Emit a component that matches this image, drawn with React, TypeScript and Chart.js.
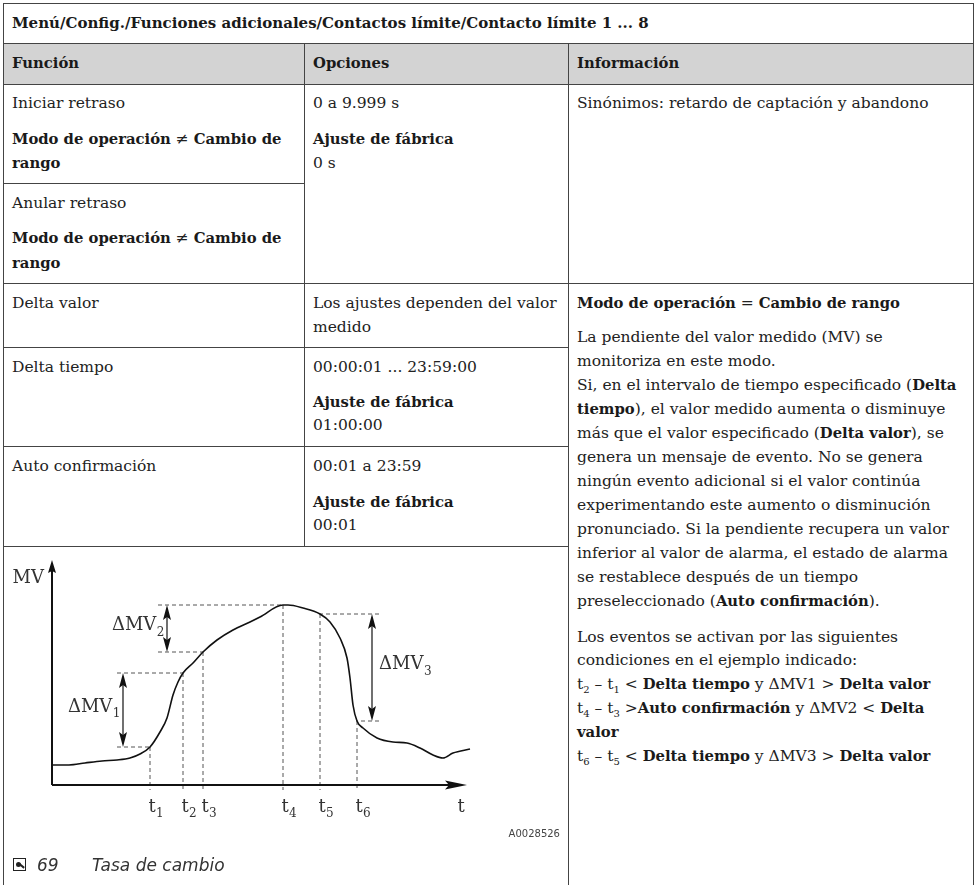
import React, { useEffect, useRef } from "react";
import { Chart, registerables } from "chart.js";
Chart.register(...registerables);

// ---- chart data (time units / MV units) ----
const curveTime = [0, 17, 33, 50, 65, 78, 88, 98, 108, 115, 121, 126, 131, 141, 151, 165, 181, 198, 208, 231, 236, 251, 268, 278, 288, 295, 298, 301, 305, 311, 325, 341, 355, 368, 381, 391, 401, 418];
const curveMV = [20, 20, 22, 24, 25, 27, 31, 38, 53, 67, 90, 103, 112, 122, 133, 145, 155, 163, 168, 180, 180, 177, 171, 163, 147, 127, 107, 80, 64, 57, 47, 43, 42, 37, 30, 27, 32, 36];
const eventTime = [98, 131, 151, 231, 268, 305];
const eventMV = [38, 112, 133, 180, 171, 64];
const eventLabels = ["1", "2", "3", "4", "5", "6"];
const deltaLabels = ["1", "2", "3"];
const deltaArrowTime = [71, 115, 320];
const deltaLowEvent = [0, 2, 5];
const deltaHighEvent = [1, 3, 4];
const deltaGuideEnd = [65, 106, 327];
const deltaLabelSide = ["left", "left", "right"];
const axisMaxTime = 420;
const axisTipTime = 415;
const axisMaxMV = 225;
const axisDropMV = -5;

const SERIF = '"DejaVu Serif", serif';

const diagramPlugin = {
  id: "diagram",
  afterDatasetsDraw(chart: any) {
    const ctx = chart.ctx as CanvasRenderingContext2D;
    const xs = chart.scales.x;
    const ys = chart.scales.y;
    const x0 = xs.getPixelForValue(0);
    const y0 = ys.getPixelForValue(0);
    const yTop = ys.getPixelForValue(axisMaxMV);
    const xTip = xs.getPixelForValue(axisTipTime);
    ctx.save();
    ctx.strokeStyle = "#111";
    ctx.fillStyle = "#111";
    // axes
    ctx.lineWidth = 2;
    ctx.beginPath();
    ctx.moveTo(x0, y0);
    ctx.lineTo(x0, yTop + 10);
    ctx.moveTo(x0, y0);
    ctx.lineTo(xTip - 16, y0);
    ctx.stroke();
    // y arrow head
    ctx.beginPath();
    ctx.moveTo(x0, yTop);
    ctx.lineTo(x0 - 4, yTop + 13);
    ctx.lineTo(x0, yTop + 11);
    ctx.lineTo(x0 + 4, yTop + 13);
    ctx.closePath();
    ctx.fill();
    // x arrow head
    ctx.beginPath();
    ctx.moveTo(xTip, y0);
    ctx.lineTo(xTip - 22, y0 - 4.5);
    ctx.lineTo(xTip - 18, y0);
    ctx.lineTo(xTip - 22, y0 + 4.5);
    ctx.closePath();
    ctx.fill();

    // delta arrows
    ctx.lineWidth = 1.2;
    deltaArrowTime.forEach((t, i) => {
      const ax = xs.getPixelForValue(t);
      const yHi = ys.getPixelForValue(eventMV[deltaHighEvent[i]]);
      const yLo = ys.getPixelForValue(eventMV[deltaLowEvent[i]]);
      const hl = 15, hw = 4;
      ctx.beginPath();
      ctx.moveTo(ax, yHi + hl - 3);
      ctx.lineTo(ax, yLo - hl + 3);
      ctx.stroke();
      ctx.beginPath();
      ctx.moveTo(ax, yHi);
      ctx.lineTo(ax - hw, yHi + hl);
      ctx.lineTo(ax, yHi + hl - 3);
      ctx.lineTo(ax + hw, yHi + hl);
      ctx.closePath();
      ctx.fill();
      ctx.beginPath();
      ctx.moveTo(ax, yLo);
      ctx.lineTo(ax - hw, yLo - hl);
      ctx.lineTo(ax, yLo - hl + 3);
      ctx.lineTo(ax + hw, yLo - hl);
      ctx.closePath();
      ctx.fill();

      // label
      const cy = (yHi + yLo) / 2 - 3;
      ctx.fillStyle = "#333";
      ctx.textBaseline = "middle";
      const main = "\u0394MV";
      ctx.font = `12px ${SERIF}`;
      const subW = ctx.measureText(deltaLabels[i]).width;
      ctx.font = `18px ${SERIF}`;
      const mainW = ctx.measureText(main).width;
      const lx = deltaLabelSide[i] === "left" ? ax - 3 - subW - mainW : ax + 7;
      ctx.textAlign = "left";
      ctx.fillText(main, lx, cy);
      ctx.font = `12px ${SERIF}`;
      ctx.fillText(deltaLabels[i], lx + mainW + 0.5, cy + 7);
      ctx.fillStyle = "#111";
    });

    // MV label
    ctx.fillStyle = "#333";
    ctx.font = `18px ${SERIF}`;
    ctx.textAlign = "right";
    ctx.textBaseline = "middle";
    ctx.fillText("MV", x0 - 8, yTop + 18);

    // t labels
    const ly = y0 + 22;
    eventTime.forEach((t, i) => {
      const px = xs.getPixelForValue(t) + 2;
      ctx.font = `18px ${SERIF}`;
      ctx.textAlign = "center";
      ctx.fillText("t", px, ly);
      ctx.font = `12px ${SERIF}`;
      ctx.textAlign = "left";
      ctx.fillText(eventLabels[i], px + 4, ly + 7);
    });
    ctx.font = `18px ${SERIF}`;
    ctx.textAlign = "center";
    ctx.fillText("t", xs.getPixelForValue(axisTipTime - 6), ly);
    ctx.restore();
  },
};

function Diagram() {
  const ref = useRef<HTMLCanvasElement | null>(null);
  useEffect(() => {
    if (!ref.current) return;
    const dash = { borderDash: [4, 3], borderColor: "#555", borderWidth: 1, pointRadius: 0, showLine: true, tension: 0, clip: false as any, fill: false };
    const datasets: any[] = [
      {
        data: curveTime.map((t, i) => ({ x: t, y: curveMV[i] })),
        showLine: true,
        borderColor: "#111",
        borderWidth: 1.6,
        pointRadius: 0,
        cubicInterpolationMode: "monotone",
        fill: false,
        clip: false,
      },
    ];
    eventTime.forEach((t, i) => {
      datasets.push({ ...dash, data: [{ x: t, y: eventMV[i] }, { x: t, y: axisDropMV }] });
    });
    deltaGuideEnd.forEach((g, i) => {
      const hi = deltaHighEvent[i], lo = deltaLowEvent[i];
      datasets.push({ ...dash, data: [{ x: g, y: eventMV[hi] }, { x: eventTime[hi], y: eventMV[hi] }] });
      datasets.push({ ...dash, data: [{ x: g, y: eventMV[lo] }, { x: eventTime[lo], y: eventMV[lo] }] });
    });
    const chart = new Chart(ref.current, {
      type: "scatter",
      data: { datasets },
      options: {
        animation: false,
        responsive: false,
        maintainAspectRatio: false,
        events: [],
        layout: { padding: { left: 48, right: 94, top: 13, bottom: 100 } },
        scales: {
          x: { type: "linear", min: 0, max: axisMaxTime, display: false },
          y: { type: "linear", min: 0, max: axisMaxMV, display: false },
        },
        plugins: { legend: { display: false }, tooltip: { enabled: false } },
      },
      plugins: [diagramPlugin],
    } as any);
    return () => chart.destroy();
  }, []);
  return (
    <canvas
      ref={ref}
      width={562}
      height={338}
      style={{ position: "absolute", left: 4, top: 547, width: 562, height: 338 }}
    />
  );
}

const TXT = "#222";
const FS = 15.5;
const FSB = 14.8;

function T({ x, y, children, style }: any) {
  return (
    <div
      style={{
        position: "absolute",
        left: x,
        top: y - 12,
        height: 24,
        lineHeight: "24px",
        whiteSpace: "nowrap",
        ...style,
      }}
    >
      {children}
    </div>
  );
}

function B({ children, size }: any) {
  return <b style={{ fontSize: size || FSB, color: "#1a1a1a" }}>{children}</b>;
}

function Sub({ children }: any) {
  return <span style={{ fontSize: 10, position: "relative", top: 4 }}>{children}</span>;
}

function HL({ x1, x2, y }: any) {
  return <div style={{ position: "absolute", left: x1, top: y, width: x2 - x1 + 1, height: 1, background: "#444" }} />;
}
function VL({ x, y1, y2 }: any) {
  return <div style={{ position: "absolute", left: x, top: y1, width: 1, height: y2 - y1 + 1, background: "#444" }} />;
}

export default function App() {
  const L = 3, R = 973, C1 = 304, C2 = 568;
  const X1 = 12, X2 = 313, X3 = 577;
  return (
    <div
      style={{
        position: "absolute",
        left: 0,
        top: 0,
        width: 976,
        height: 885,
        overflow: "hidden",
        background: "#fff",
        fontFamily: SERIF,
        fontSize: FS,
        color: TXT,
      }}
    >
      <div style={{ position: "absolute", left: L + 1, top: 44, width: R - L - 1, height: 40, background: "#d3d3d3" }} />
      <HL x1={L} x2={R} y={3} />
      <HL x1={L} x2={R} y={43} />
      <HL x1={L} x2={R} y={84} />
      <HL x1={L} x2={C1} y={183} />
      <HL x1={L} x2={R} y={283} />
      <HL x1={L} x2={C2} y={347} />
      <HL x1={L} x2={C2} y={446} />
      <HL x1={L} x2={C2} y={546} />
      <VL x={L} y1={3} y2={885} />
      <VL x={R} y1={3} y2={885} />
      <VL x={C1} y1={43} y2={546} />
      <VL x={C2} y1={43} y2={885} />

      <T x={X1} y={23}><B size={15}>Menú/Config./Funciones adicionales/Contactos límite/Contacto límite 1 ... 8</B></T>
      <T x={X1} y={63}><B>Función</B></T>
      <T x={X2} y={63}><B>Opciones</B></T>
      <T x={X3} y={63}><B>Información</B></T>

      <T x={X1} y={103}>Iniciar retraso</T>
      <T x={X1} y={139}><B>Modo de operación</B> ≠ <B>Cambio de</B></T>
      <T x={X1} y={163}><B>rango</B></T>
      <T x={X1} y={203}>Anular retraso</T>
      <T x={X1} y={238}><B>Modo de operación</B> ≠ <B>Cambio de</B></T>
      <T x={X1} y={263}><B>rango</B></T>
      <T x={X1} y={303}>Delta valor</T>
      <T x={X1} y={367}>Delta tiempo</T>
      <T x={X1} y={466}>Auto confirmación</T>

      <T x={X2} y={103}>0 a 9.999 s</T>
      <T x={X2} y={139}><B>Ajuste de fábrica</B></T>
      <T x={X2} y={163}>0 s</T>
      <T x={X2} y={303}>Los ajustes dependen del valor</T>
      <T x={X2} y={327}>medido</T>
      <T x={X2} y={367}>00:00:01 ... 23:59:00</T>
      <T x={X2} y={402}><B>Ajuste de fábrica</B></T>
      <T x={X2} y={425}>01:00:00</T>
      <T x={X2} y={466}>00:01 a 23:59</T>
      <T x={X2} y={502}><B>Ajuste de fábrica</B></T>
      <T x={X2} y={525}>00:01</T>

      <T x={X3} y={103}>Sinónimos: retardo de captación y abandono</T>
      <T x={X3} y={303}><B>Modo de operación</B> = <B>Cambio de rango</B></T>
      <T x={X3} y={337}>La pendiente del valor medido (MV) se</T>
      <T x={X3} y={361}>monitoriza en este modo.</T>
      <T x={X3} y={385}>Si, en el intervalo de tiempo especificado (<B>Delta</B></T>
      <T x={X3} y={409}><B>tiempo</B>), el valor medido aumenta o disminuye</T>
      <T x={X3} y={433}>más que el valor especificado (<B>Delta valor</B>), se</T>
      <T x={X3} y={457}>genera un mensaje de evento. No se genera</T>
      <T x={X3} y={481}>ningún evento adicional si el valor continúa</T>
      <T x={X3} y={505}>experimentando este aumento o disminución</T>
      <T x={X3} y={529}>pronunciado. Si la pendiente recupera un valor</T>
      <T x={X3} y={553}>inferior al valor de alarma, el estado de alarma</T>
      <T x={X3} y={577}>se restablece después de un tiempo</T>
      <T x={X3} y={601}>preseleccionado (<B>Auto confirmación</B>).</T>
      <T x={X3} y={637}>Los eventos se activan por las siguientes</T>
      <T x={X3} y={660}>condiciones en el ejemplo indicado:</T>
      <T x={X3} y={684}>t<Sub>2</Sub> – t<Sub>1</Sub> &lt; <B>Delta tiempo</B> y ΔMV1 &gt; <B>Delta valor</B></T>
      <T x={X3} y={708}>t<Sub>4</Sub> – t<Sub>3</Sub> &gt;<B>Auto confirmación</B> y ΔMV2 &lt; <B>Delta</B></T>
      <T x={X3} y={732}><B>valor</B></T>
      <T x={X3} y={756}>t<Sub>6</Sub> – t<Sub>5</Sub> &lt; <B>Delta tiempo</B> y ΔMV3 &gt; <B>Delta valor</B></T>

      <Diagram />

      <div style={{ position: "absolute", right: 976 - 560, top: 827, fontFamily: '"DejaVu Sans", sans-serif', fontSize: 10, color: "#444", lineHeight: "14px" }}>A0028526</div>

      <div style={{ position: "absolute", left: 13, top: 858, width: 13, height: 13, border: "1px solid #222", boxSizing: "border-box" }}>
        <div style={{ position: "absolute", left: 2, top: 3, width: 5, height: 5, borderRadius: 3, background: "#222" }} />
        <div style={{ position: "absolute", left: 5, top: 6, width: 6, height: 1.5, background: "#222", transform: "rotate(40deg)" }} />
      </div>
      <T x={37} y={865} style={{ fontFamily: '"DejaVu Sans", sans-serif', fontStyle: "italic", fontSize: 17, color: "#333" }}>69</T>
      <T x={92} y={865} style={{ fontFamily: '"DejaVu Sans", sans-serif', fontStyle: "italic", fontSize: 17, color: "#333" }}>Tasa de cambio</T>
    </div>
  );
}
